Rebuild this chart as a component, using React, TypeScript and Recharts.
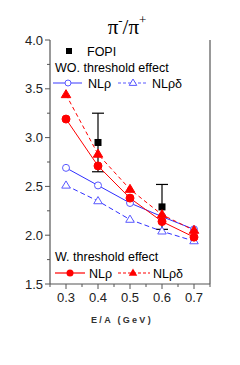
import React from "react";
import { ComposedChart, Line, Scatter, XAxis, YAxis, ErrorBar, Label } from "recharts";

// beam energy E/A (GeV)
const energies = [0.3, 0.4, 0.5, 0.6, 0.7];
// without threshold effect
const woNLrho = [2.69, 2.51, 2.33, 2.19, 2.06];
const woNLrhoDelta = [2.51, 2.35, 2.16, 2.04, 1.94];
// with threshold effect
const wNLrho = [3.19, 2.71, 2.38, 2.14, 1.98];
const wNLrhoDelta = [3.44, 2.83, 2.47, 2.21, 2.05];
// FOPI data
const fopiEnergies = [0.4, 0.6];
const fopiRatio = [2.95, 2.29];
const fopiError = [0.3, 0.23];

const xMajor = [0.3, 0.4, 0.5, 0.6, 0.7];
const xMinor = [0.25, 0.35, 0.45, 0.55, 0.65, 0.75];
const yMajor = [1.5, 2.0, 2.5, 3.0, 3.5, 4.0];
const yMinor = [1.75, 2.25, 2.75, 3.25, 3.75];

const rows = energies.map((e, i) => ({
  e,
  woRho: woNLrho[i],
  woRhoDelta: woNLrhoDelta[i],
  wRho: wNLrho[i],
  wRhoDelta: wNLrhoDelta[i],
}));
const fopiRows = fopiEnergies.map((e, i) => ({ e, ratio: fopiRatio[i], err: fopiError[i] }));

const FRAME = "#555";
const RED = "#ff0000";
const BLUE = "#2f2fff";
const BLUE_MARK = "#5a5aff";
const FONT = "'Liberation Sans', Arial, sans-serif";

const isMajor = (v: number, majors: number[]) => majors.some((m) => Math.abs(m - v) < 1e-6);

function BottomTick({ x, y, payload }: any) {
  const major = isMajor(payload.value, xMajor);
  return (
    <g>
      <line x1={x} x2={x} y1={y} y2={y + (major ? 5 : 3)} stroke={FRAME} />
      {major && (
        <text x={x} y={y + 18} textAnchor="middle" fontSize={13} fill="#222" fontFamily={FONT}>
          {payload.value.toFixed(1)}
        </text>
      )}
    </g>
  );
}

function TopTick({ x, y, payload }: any) {
  const major = isMajor(payload.value, xMajor);
  return <line x1={x} x2={x} y1={y} y2={y + (major ? 5 : 3)} stroke={FRAME} />;
}

function LeftTick({ x, y, payload }: any) {
  const major = isMajor(payload.value, yMajor);
  return (
    <g>
      <line x1={x} x2={x - (major ? 5 : 3)} y1={y} y2={y} stroke={FRAME} />
      {major && (
        <text x={x - 7} y={y} dy="0.36em" textAnchor="end" fontSize={13} fill="#222" fontFamily={FONT}>
          {payload.value.toFixed(1)}
        </text>
      )}
    </g>
  );
}

function RightTick({ x, y, payload }: any) {
  const major = isMajor(payload.value, yMajor);
  return <line x1={x} x2={x - (major ? 5 : 3)} y1={y} y2={y} stroke={FRAME} />;
}

const triPath = (cx: number, cy: number, r: number) =>
  `M${cx},${cy - r}L${cx + r * 0.95},${cy + r * 0.6}L${cx - r * 0.95},${cy + r * 0.6}Z`;

function OpenCircle({ cx, cy }: any) {
  if (cx == null || cy == null) return <g />;
  return <circle cx={cx} cy={cy} r={3.5} fill="#fff" stroke={BLUE_MARK} strokeWidth={1} />;
}
function OpenTriangle({ cx, cy }: any) {
  if (cx == null || cy == null) return <g />;
  return <path d={triPath(cx, cy, 4.5)} fill="#fff" stroke={BLUE_MARK} strokeWidth={1} />;
}
function RedCircle({ cx, cy }: any) {
  if (cx == null || cy == null) return <g />;
  return <circle cx={cx} cy={cy} r={4} fill={RED} stroke={RED} />;
}
function RedTriangle({ cx, cy }: any) {
  if (cx == null || cy == null) return <g />;
  return <path d={triPath(cx, cy, 5)} fill={RED} stroke={RED} />;
}
function FopiSquare({ cx, cy }: any) {
  return <rect x={cx - 3.5} y={cy - 3.5} width={7} height={7} fill="#000" />;
}

function LegendOverlay() {
  const t = { fontFamily: FONT, fontSize: 12.5, fill: "#000" } as const;
  return (
    <svg width={240} height={365} style={{ position: "absolute", left: 0, top: 0, pointerEvents: "none" }}>
      {/* title */}
      <text x={127} y={34} textAnchor="middle" fontFamily="'Liberation Serif', 'Times New Roman', serif" fontSize={21} fill="#000">
        π<tspan dy={-9} fontSize={13}>-</tspan>
        <tspan dy={9}>/π</tspan>
        <tspan dy={-10} fontSize={13}>+</tspan>
      </text>

      <rect x={66} y={48} width={6} height={6} fill="#000" />
      <text x={87} y={51} dy="0.36em" {...t}>FOPI</text>
      <text x={55} y={67} dy="0.36em" {...t}>WO. threshold effect</text>

      <line x1={53} x2={82} y1={83} y2={83} stroke={BLUE_MARK} strokeWidth={1.2} />
      <circle cx={68} cy={83} r={3} fill="#fff" stroke={BLUE_MARK} />
      <text x={88} y={83} dy="0.36em" {...t}>NLρ</text>
      <line x1={118} x2={148} y1={83} y2={83} stroke={BLUE_MARK} strokeWidth={1.2} strokeDasharray="3 2" />
      <path d={triPath(133, 83, 4)} fill="#fff" stroke={BLUE_MARK} />
      <text x={152} y={83} dy="0.36em" {...t}>NLρδ</text>

      <text x={55} y={256} dy="0.36em" {...t}>W. threshold effect</text>
      <line x1={55} x2={85} y1={273} y2={273} stroke={RED} strokeWidth={1.2} />
      <circle cx={70} cy={273} r={3.5} fill={RED} />
      <text x={89} y={273} dy="0.36em" {...t}>NLρ</text>
      <line x1={118} x2={150} y1={273} y2={273} stroke={RED} strokeWidth={1.2} strokeDasharray="3 2" />
      <path d={triPath(133, 273, 4.5)} fill={RED} />
      <text x={153} y={273} dy="0.36em" {...t}>NLρδ</text>
    </svg>
  );
}

export default function App(): JSX.Element {
  const xTicks = [...xMinor, ...xMajor].sort((a, b) => a - b);
  const yTicks = [...yMinor, ...yMajor].sort((a, b) => a - b);
  return (
    <div style={{ position: "absolute", left: 0, top: 0, width: 240, height: 365, background: "#fff" }}>
      <ComposedChart width={240} height={365} data={rows} margin={{ top: 40, right: 0, bottom: 0, left: 0 }}>
        <XAxis
          xAxisId="b"
          dataKey="e"
          type="number"
          domain={[0.25, 0.75]}
          ticks={xTicks}
          interval={0}
          height={81}
          tickSize={0}
          tickMargin={0}
          tickLine={false}
          axisLine={{ stroke: FRAME, strokeWidth: 1.2 }}
          tick={<BottomTick />}
        >
          <Label
            content={({ viewBox }: any) => (
              <text
                x={viewBox.x + viewBox.width / 2 - 8}
                y={viewBox.y + 39}
                textAnchor="middle"
                fontFamily={FONT}
                fontWeight="bold"
                fontSize={9}
                letterSpacing={2.3}
                fill="#333"
              >
                E/A (GeV)
              </text>
            )}
          />
        </XAxis>
        <XAxis
          xAxisId="t"
          dataKey="e"
          type="number"
          orientation="top"
          domain={[0.25, 0.75]}
          ticks={xTicks}
          interval={0}
          height={0}
          tickSize={0}
          tickMargin={0}
          tickLine={false}
          axisLine={{ stroke: FRAME, strokeWidth: 1.2 }}
          tick={<TopTick />}
        />
        <YAxis
          yAxisId="l"
          type="number"
          domain={[1.5, 4.0]}
          ticks={yTicks}
          interval={0}
          width={50}
          tickSize={0}
          tickMargin={0}
          tickLine={false}
          axisLine={{ stroke: FRAME, strokeWidth: 1.2 }}
          tick={<LeftTick />}
        />
        <YAxis
          yAxisId="r"
          orientation="right"
          type="number"
          domain={[1.5, 4.0]}
          ticks={yTicks}
          interval={0}
          width={30}
          tickSize={0}
          tickMargin={0}
          tickLine={false}
          axisLine={{ stroke: FRAME, strokeWidth: 1.2 }}
          tick={<RightTick />}
        />
        <Scatter
          xAxisId="b"
          yAxisId="l"
          data={fopiRows}
          dataKey="ratio"
          shape={<FopiSquare />}
          isAnimationActive={false}
        >
          <ErrorBar dataKey="err" direction="y" width={6} stroke="#000" strokeWidth={1.2} />
        </Scatter>
        <Line xAxisId="b" yAxisId="l" dataKey="woRho" stroke={BLUE} strokeWidth={1} dot={<OpenCircle />} isAnimationActive={false} />
        <Line
          xAxisId="b"
          yAxisId="l"
          dataKey="woRhoDelta"
          stroke={BLUE}
          strokeWidth={1}
          strokeDasharray="5 3"
          dot={<OpenTriangle />}
          isAnimationActive={false}
        />
        <Line xAxisId="b" yAxisId="l" dataKey="wRho" stroke={RED} strokeWidth={1} dot={<RedCircle />} isAnimationActive={false} />
        <Line
          xAxisId="b"
          yAxisId="l"
          dataKey="wRhoDelta"
          stroke={RED}
          strokeWidth={1}
          strokeDasharray="4 3"
          dot={<RedTriangle />}
          isAnimationActive={false}
        />
      </ComposedChart>
      <LegendOverlay />
    </div>
  );
}
